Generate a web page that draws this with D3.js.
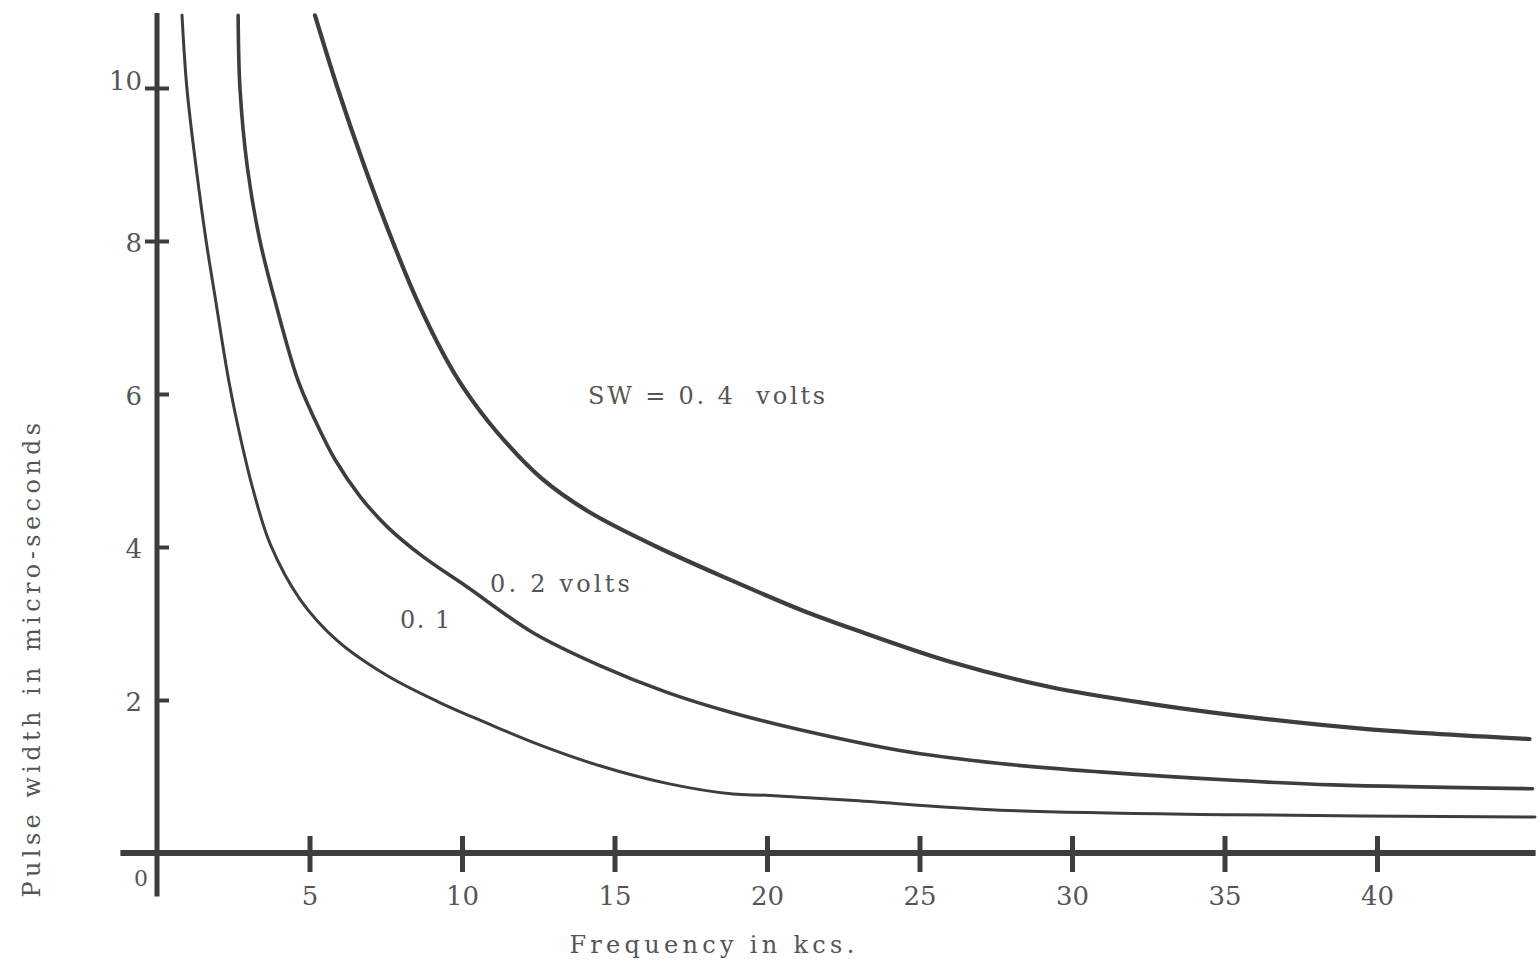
<!DOCTYPE html>
<meta charset="utf-8">
<title>Pulse width vs frequency</title>
<style>
  body { margin: 0; background: #fff; }
  text { font-family: "DejaVu Serif", serif; fill: #555; white-space: pre; }
  .tick text { font-size: 26px; }
  .curve { fill: none; stroke: #3d3d3d; stroke-linecap: round; stroke-linejoin: round; }
</style>
<body>
<svg width="1540" height="974"></svg>
<script src="https://d3js.org/d3.v7.min.js"></script>
<script>

// values (frequency kcs, pulse width µs)
var freq01 = [0.82, 0.98, 1.28, 1.6, 1.92, 2.35, 2.68, 3.15, 3.72, 4.7, 5.9, 7.5, 9.2, 10.8, 12.5, 14.52, 16.72, 18.89, 19.97, 22.72, 27.64, 35.28, 45.18];
var width01 = [10.95, 10.0, 8.97, 8.03, 7.23, 6.18, 5.53, 4.75, 4.03, 3.31, 2.78, 2.33, 1.98, 1.70, 1.42, 1.14, 0.91, 0.77, 0.755, 0.69, 0.56, 0.50, 0.47];

var freq02 = [2.66, 2.72, 2.96, 3.36, 3.86, 4.62, 5.18, 5.84, 6.68, 7.56, 8.7, 10.16, 12.33, 14.52, 16.72, 18.89, 21.08, 24.36, 27.64, 30.92, 35.28, 38.56, 45.1];
var width02 = [10.95, 10.0, 8.97, 8.03, 7.23, 6.18, 5.66, 5.14, 4.65, 4.26, 3.88, 3.48, 2.88, 2.45, 2.10, 1.83, 1.61, 1.34, 1.17, 1.06, 0.95, 0.89, 0.84];

var freq04 = [5.18, 5.92, 6.78, 7.72, 8.52, 9.42, 10.1, 11.15, 12.6, 14.2, 16.4, 18.8, 21.1, 22.8, 26.0, 29.28, 32.56, 36.39, 39.67, 45.0];
var width04 = [10.95, 10.0, 9.0, 8.0, 7.23, 6.5, 6.05, 5.5, 4.9, 4.45, 4.0, 3.57, 3.18, 2.93, 2.50, 2.17, 1.95, 1.75, 1.62, 1.49];

var xTicks = [5, 10, 15, 20, 25, 30, 35, 40];
var yTicks = [2, 4, 6, 8, 10];

var svg = d3.select("svg");

var x = d3.scaleLinear().domain([0, 40]).range([157, 1377]);
var y = d3.scaleLinear().domain([0, 10]).range([853, 88]);

// axis lines, drawn by hand so they overshoot like the original
svg.append("line")
  .attr("x1", x(-1.2)).attr("x2", x(45.2))
  .attr("y1", y(0)).attr("y2", y(0))
  .attr("stroke", "#3d3d3d").attr("stroke-width", 6);

svg.append("line")
  .attr("x1", x(0)).attr("x2", x(0))
  .attr("y1", y(10.98)).attr("y2", y(-0.57))
  .attr("stroke", "#3d3d3d").attr("stroke-width", 5);

var xAxis = svg.append("g")
  .attr("transform", "translate(0," + y(0) + ")")
  .call(d3.axisBottom(x).tickValues(xTicks).tickSize(0).tickPadding(34));
xAxis.select(".domain").remove();
xAxis.selectAll(".tick").append("line")
  .attr("y1", -17).attr("y2", 19)
  .attr("stroke", "#3d3d3d").attr("stroke-width", 5);
xAxis.selectAll(".tick text").attr("fill", "#555");

var yAxis = svg.append("g")
  .attr("transform", "translate(" + x(0) + ",0)")
  .call(d3.axisLeft(y).tickValues(yTicks).tickSize(0).tickPadding(15));
yAxis.select(".domain").remove();
yAxis.selectAll(".tick").append("line")
  .attr("x1", function(d) { return d >= 8 ? -12 : -2; })
  .attr("x2", 12)
  .attr("stroke", "#3d3d3d").attr("stroke-width", 4);
yAxis.selectAll(".tick text")
  .attr("fill", "#555")
  .attr("dy", function(d) { return d == 10 ? "0.05em" : "0.42em"; });

svg.append("text")
  .attr("x", 141).attr("y", 886)
  .attr("text-anchor", "middle")
  .style("font-size", "22px")
  .text("0");

var line = d3.line()
  .x(function(d) { return x(d[0]); })
  .y(function(d) { return y(d[1]); })
  .curve(d3.curveCatmullRom.alpha(0.5));

var curves = [
  { f: freq01, w: width01, sw: 3 },
  { f: freq02, w: width02, sw: 3.6 },
  { f: freq04, w: width04, sw: 4.2 }
];

curves.forEach(function(c) {
  svg.append("path")
    .datum(d3.zip(c.f, c.w))
    .attr("class", "curve")
    .attr("stroke-width", c.sw)
    .attr("d", line);
});

// curve labels
svg.append("text").attr("x", 588).attr("y", 404)
  .style("font-size", "24px").style("letter-spacing", "2.8px")
  .text("SW = 0. 4  volts");
svg.append("text").attr("x", 490).attr("y", 592)
  .style("font-size", "24px").style("letter-spacing", "3.2px")
  .text("0. 2 volts");
svg.append("text").attr("x", 400).attr("y", 628)
  .style("font-size", "24px").style("letter-spacing", "1.5px")
  .text("0. 1");

// axis titles
svg.append("text")
  .attr("x", 714).attr("y", 953)
  .attr("text-anchor", "middle")
  .style("font-size", "24px").style("letter-spacing", "4.3px")
  .text("Frequency in kcs.");

svg.append("text")
  .attr("transform", "translate(40,658) rotate(-90)")
  .attr("text-anchor", "middle")
  .style("font-size", "24px").style("letter-spacing", "4.4px")
  .text("Pulse width in micro-seconds");

</script>
</body>
